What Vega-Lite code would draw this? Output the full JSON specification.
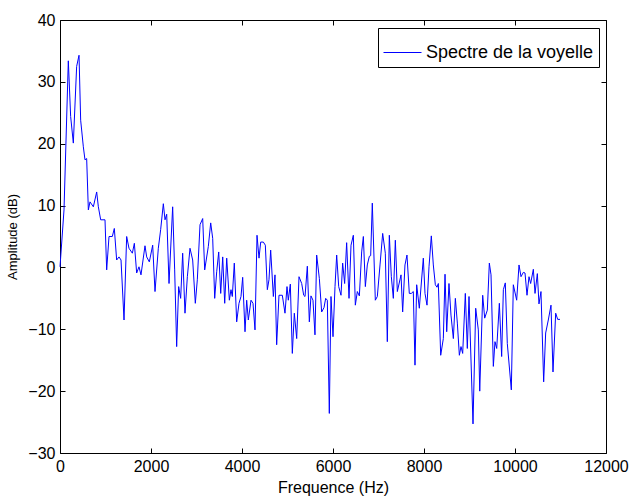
{
  "$schema": "https://vega.github.io/schema/vega-lite/v6.json",
  "width": 546,
  "height": 433,
  "autosize": {"type": "none"},
  "padding": {"left": 60, "top": 20, "right": 27, "bottom": 45},
  "background": "white",
  "config": {
    "view": {"stroke": "black", "strokeWidth": 1},
    "font": "Liberation Sans",
    "axis": {"labelFont": "Liberation Sans", "titleFont": "Liberation Sans", "labelColor": "black", "titleColor": "black", "tickColor": "black", "grid": false, "domain": false, "titleFontWeight": "normal"}
  },
  "data": {"values": [
    {"f":0,"db":0.1},{"f":88,"db":9.3},{"f":183,"db":33.4},{"f":234,"db":24.4},{"f":293,"db":20.1},{"f":366,"db":32.5},{"f":418,"db":34.3},{"f":454,"db":23.8},{"f":513,"db":19.5},{"f":549,"db":17.4},{"f":586,"db":17.6},{"f":623,"db":9.3},{"f":659,"db":10.6},{"f":733,"db":9.8},{"f":806,"db":12.2},{"f":843,"db":9.8},{"f":894,"db":7.7},{"f":989,"db":7.7},{"f":1026,"db":-0.4},{"f":1077,"db":5.0},{"f":1150,"db":5.0},{"f":1194,"db":6.3},{"f":1245,"db":1.2},{"f":1297,"db":1.7},{"f":1341,"db":1.2},{"f":1407,"db":-8.5},{"f":1465,"db":5.0},{"f":1516,"db":3.1},{"f":1590,"db":2.3},{"f":1634,"db":3.9},{"f":1685,"db":-0.9},{"f":1736,"db":0.1},{"f":1780,"db":-1.2},{"f":1868,"db":3.5},
    {"f":1905,"db":1.7},{"f":1963,"db":0.9},{"f":2037,"db":3.6},{"f":2088,"db":-3.9},{"f":2161,"db":3.1},{"f":2212,"db":6.1},{"f":2271,"db":10.3},{"f":2308,"db":7.7},{"f":2345,"db":8.6},{"f":2396,"db":-2.6},{"f":2476,"db":9.8},{"f":2520,"db":-0.4},{"f":2564,"db":-12.8},{"f":2608,"db":-3.1},{"f":2652,"db":-5.0},{"f":2696,"db":2.3},{"f":2747,"db":-7.4},{"f":2799,"db":-1.5},{"f":2857,"db":3.1},{"f":2916,"db":1.2},{"f":2974,"db":-5.8},{"f":3018,"db":-2.0},{"f":3077,"db":6.9},{"f":3136,"db":7.9},{"f":3180,"db":-0.4},{"f":3260,"db":3.4},{"f":3312,"db":7.2},{"f":3356,"db":4.7},{"f":3400,"db":-5.0},{"f":3444,"db":-0.7},{"f":3488,"db":2.5},{"f":3532,"db":-4.2},{"f":3576,"db":1.7},{"f":3620,"db":-5.8},{"f":3664,"db":1.5},{"f":3722,"db":-5.3},
    {"f":3758,"db":-3.6},{"f":3787,"db":-4.7},{"f":3831,"db":0.7},{"f":3883,"db":-8.8},{"f":3934,"db":-5.8},{"f":3978,"db":-4.7},{"f":4015,"db":-1.6},{"f":4066,"db":-10.4},{"f":4103,"db":-5.3},{"f":4139,"db":-8.5},{"f":4198,"db":-5.3},{"f":4242,"db":-5.8},{"f":4286,"db":-10.1},{"f":4330,"db":5.2},{"f":4374,"db":1.5},{"f":4411,"db":4.1},{"f":4469,"db":4.1},{"f":4513,"db":3.6},{"f":4557,"db":-3.6},{"f":4593,"db":-2.0},{"f":4630,"db":2.8},{"f":4689,"db":-4.7},{"f":4725,"db":-1.2},{"f":4762,"db":-12.5},{"f":4813,"db":-4.5},{"f":4886,"db":-4.5},{"f":4945,"db":-7.4},{"f":4989,"db":-3.1},{"f":5018,"db":-5.3},{"f":5062,"db":-2.7},{"f":5106,"db":-13.9},{"f":5150,"db":-7.4},{"f":5202,"db":-11.5},{"f":5253,"db":-1.5},{"f":5312,"db":-2.6},{"f":5356,"db":-4.5},{"f":5385,"db":-4.7},{"f":5436,"db":0.2},{"f":5480,"db":-8.8},{"f":5516,"db":-4.6},{"f":5560,"db":-5.3},{"f":5604,"db":-10.9},
    {"f":5641,"db":2.0},{"f":5700,"db":-1.8},{"f":5751,"db":-7.2},{"f":5802,"db":-6.5},{"f":5839,"db":-5.0},{"f":5875,"db":-5.3},{"f":5919,"db":-23.6},{"f":5956,"db":-4.7},{"f":6000,"db":-11.2},{"f":6044,"db":-3.1},{"f":6081,"db":2.0},{"f":6125,"db":-3.1},{"f":6176,"db":-4.5},{"f":6212,"db":0.7},{"f":6256,"db":-2.6},{"f":6300,"db":4.0},{"f":6352,"db":-5.0},{"f":6396,"db":3.6},{"f":6447,"db":5.2},{"f":6491,"db":-6.1},{"f":6535,"db":-3.9},{"f":6579,"db":-4.6},{"f":6630,"db":2.5},{"f":6667,"db":5.0},{"f":6711,"db":-3.1},{"f":6754,"db":0.4},{"f":6799,"db":1.8},{"f":6828,"db":1.9},{"f":6864,"db":10.4},{"f":6930,"db":-5.3},{"f":6974,"db":-4.7},{"f":7033,"db":0.4},{"f":7092,"db":5.5},{"f":7150,"db":2.3},{"f":7194,"db":-12.0},{"f":7238,"db":5.2},{"f":7282,"db":-1.5},{"f":7326,"db":-5.0},{"f":7370,"db":4.4},{"f":7414,"db":-3.9},
    {"f":7495,"db":-1.2},{"f":7531,"db":-7.2},{"f":7582,"db":0.4},{"f":7626,"db":2.0},{"f":7677,"db":-4.2},{"f":7721,"db":-4.2},{"f":7765,"db":-3.9},{"f":7802,"db":-15.8},{"f":7839,"db":-2.8},{"f":7897,"db":-6.6},{"f":7985,"db":1.5},{"f":8022,"db":-4.2},{"f":8066,"db":-6.1},{"f":8110,"db":0.1},{"f":8161,"db":5.1},{"f":8205,"db":0.4},{"f":8249,"db":-2.8},{"f":8286,"db":-3.2},{"f":8315,"db":-2.6},{"f":8367,"db":-14.2},{"f":8425,"db":-11.5},{"f":8462,"db":-1.1},{"f":8499,"db":-10.4},{"f":8549,"db":-2.6},{"f":8593,"db":-7.7},{"f":8645,"db":-11.5},{"f":8689,"db":-5.0},{"f":8733,"db":-9.0},{"f":8777,"db":-14.2},{"f":8813,"db":-12.8},{"f":8850,"db":-13.9},{"f":8908,"db":-4.2},{"f":8952,"db":-13.1},{"f":8989,"db":-4.7},{"f":9077,"db":-25.3},{"f":9136,"db":-6.6},{"f":9194,"db":-10.1},{"f":9225,"db":-20.0},{"f":9290,"db":-4.5},{"f":9334,"db":-8.2},{"f":9392,"db":-6.9},{"f":9436,"db":0.7},{"f":9473,"db":-1.2},{"f":9524,"db":-16.0},{"f":9560,"db":-12.0},{"f":9598,"db":-13.1},{"f":9656,"db":-5.8},{"f":9707,"db":-14.4},{"f":9744,"db":-3.6},{"f":9787,"db":-2.5},{"f":9831,"db":-12.3},{"f":9919,"db":-19.8},{"f":9963,"db":-2.8},
    {"f":10037,"db":-5.3},{"f":10088,"db":0.4},{"f":10132,"db":-1.5},{"f":10183,"db":-0.8},{"f":10220,"db":-0.9},{"f":10264,"db":-4.5},{"f":10308,"db":-1.5},{"f":10344,"db":-2.6},{"f":10403,"db":-0.3},{"f":10440,"db":-4.2},{"f":10491,"db":-1.0},{"f":10527,"db":-5.9},{"f":10571,"db":-3.9},{"f":10630,"db":-18.5},{"f":10674,"db":-10.6},{"f":10732,"db":-8.5},{"f":10791,"db":-6.1},{"f":10835,"db":-16.9},{"f":10894,"db":-7.4},{"f":10938,"db":-8.4},{"f":10989,"db":-8.4}
  ]},
  "layer": [
    {
      "mark": {"type": "line", "strokeWidth": 1, "interpolate": "linear"},
      "encoding": {
        "x": {"field": "f", "type": "quantitative", "scale": {"domain": [0, 12000], "nice": false, "zero": false},
          "axis": {"orient": "bottom", "values": [0, 2000, 4000, 6000, 8000, 10000, 12000], "format": "d", "offset": -5, "tickSize": 5, "labelFontSize": 16, "labelPadding": 5, "labelFlush": false, "labelOverlap": false, "title": "Frequence (Hz)", "titleFontSize": 16, "titlePadding": 5}},
        "y": {"field": "db", "type": "quantitative", "scale": {"domain": [-30, 40], "nice": false, "zero": false},
          "axis": {"orient": "left", "values": [-30, -20, -10, 0, 10, 20, 30, 40], "format": "d", "offset": -5, "tickSize": 5, "labelFontSize": 16, "labelPadding": 5, "labelFlush": false, "labelOverlap": false, "title": "Amplitude (dB)", "titleFontSize": 13, "titlePadding": 8}},
        "color": {"datum": "Spectre de la voyelle", "type": "nominal", "scale": {"range": ["#0000ff"]},
          "legend": {"title": null, "orient": "none", "legendX": 318, "legendY": 8, "fillColor": "white", "strokeColor": "black", "padding": 5, "symbolType": "stroke", "symbolSize": 1444, "symbolStrokeWidth": 1, "labelFontSize": 18, "labelFont": "Liberation Sans", "labelColor": "black", "labelOffset": 4, "labelLimit": 400, "cornerRadius": 0}}
      }
    },
    {
      "mark": {"type": "point", "opacity": 0},
      "encoding": {
        "x": {"field": "f", "type": "quantitative", "axis": {"orient": "top", "values": [0, 2000, 4000, 6000, 8000, 10000, 12000], "offset": -5, "tickSize": 5, "labels": false, "title": null}},
        "y": {"field": "db", "type": "quantitative", "axis": {"orient": "right", "values": [-30, -20, -10, 0, 10, 20, 30, 40], "offset": -5, "tickSize": 5, "labels": false, "title": null}}
      }
    }
  ],
  "resolve": {"axis": {"x": "independent", "y": "independent"}}
}
